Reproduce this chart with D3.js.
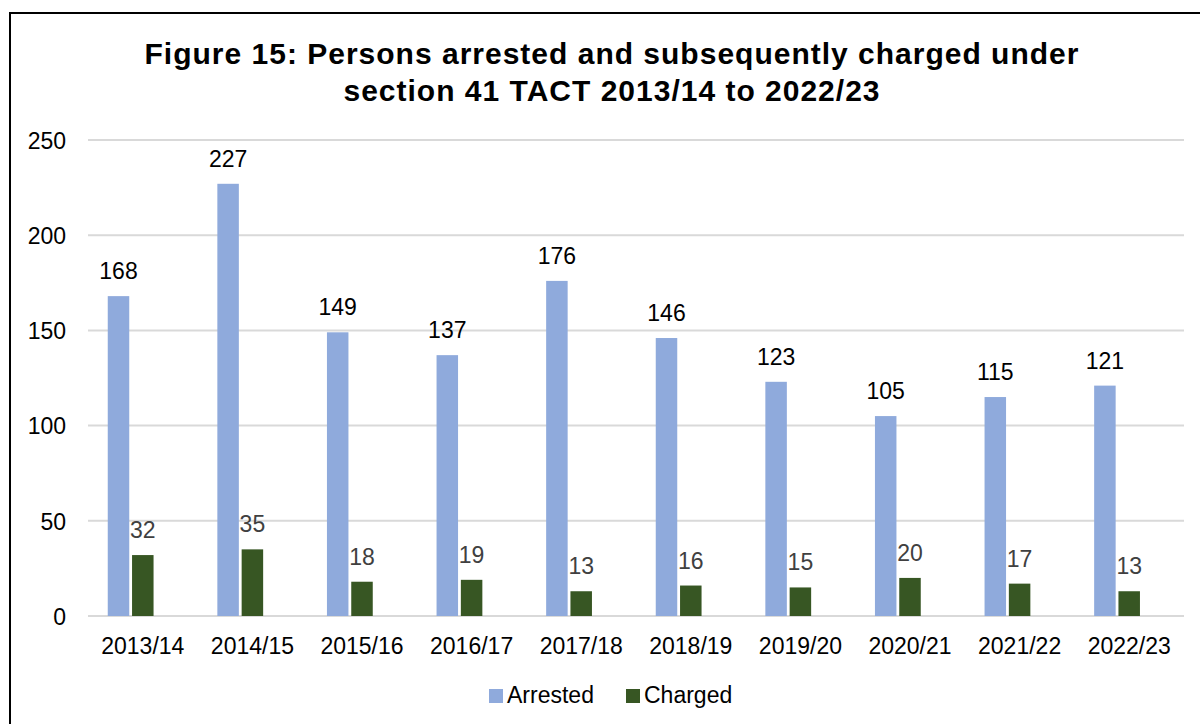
<!DOCTYPE html>
<html><head><meta charset="utf-8">
<script src="https://cdn.jsdelivr.net/npm/d3@7"></script>
<style>body{margin:0;background:#fff}svg{display:block;font-family:"Liberation Sans",Arial,sans-serif}</style>
</head><body><svg id="c" width="1200" height="724"></svg>
<script>
const categories = ["2013/14","2014/15","2015/16","2016/17","2017/18","2018/19","2019/20","2020/21","2021/22","2022/23"];
const arrested = [168,227,149,137,176,146,123,105,115,121];
const charged = [32,35,18,19,13,16,15,20,17,13];
const yTicks = [0,50,100,150,200,250];
const seriesNames = ["Arrested","Charged"];
const colors = ["#8FAADC","#375623"];

const svg = d3.select("#c");
svg.append("rect").attr("x",0).attr("y",0).attr("width",1200).attr("height",724).attr("fill","#fff");
// border
svg.append("path").attr("d","M10,730 L10,13 L1210,13").attr("fill","none").attr("stroke","#000").attr("stroke-width",2);

svg.append("text").attr("x",612).attr("y",64).attr("text-anchor","middle").attr("font-size",30).attr("letter-spacing","1px").attr("font-weight","bold").text("Figure 15: Persons arrested and subsequently charged under");
svg.append("text").attr("x",612).attr("y",101).attr("text-anchor","middle").attr("font-size",30).attr("letter-spacing","1px").attr("font-weight","bold").text("section 41 TACT 2013/14 to 2022/23");

const x = d3.scaleBand().domain(categories).range([88,1184]).paddingInner(0).paddingOuter(0);
const y = d3.scaleLinear().domain([0,250]).range([616,140]);

// gridlines
svg.append("g").selectAll("line").data(yTicks).join("line")
  .attr("x1",88).attr("x2",1184).attr("y1",d=>y(d)).attr("y2",d=>y(d))
  .attr("stroke","#D9D9D9").attr("stroke-width",2);

const yAxis = d3.axisLeft(y).tickValues(yTicks).tickSize(0).tickPadding(0);
const gy = svg.append("g").attr("transform","translate(66,0)").call(yAxis);
gy.select(".domain").remove();
gy.selectAll("text").attr("font-size",23).attr("fill","#000").attr("font-family","Liberation Sans, Arial, sans-serif").attr("dy","0.36em");

const xAxis = d3.axisBottom(x).tickSize(0).tickPadding(0);
const gx = svg.append("g").attr("transform","translate(0,637)").call(xAxis);
gx.select(".domain").remove();
gx.selectAll("text").attr("font-size",23).attr("fill","#000").attr("font-family","Liberation Sans, Arial, sans-serif").attr("dy","0.72em");

const slot = 24.3, bw = 21.5;
const series = [arrested, charged];
series.forEach((vals,si)=>{
  const off = x.bandwidth()/2 - 1.5*slot + si*slot;
  svg.append("g").selectAll("rect").data(vals).join("rect")
    .attr("x",(d,i)=>x(categories[i])+off+(slot-bw)/2)
    .attr("width",bw)
    .attr("y",d=>y(d)).attr("height",d=>y(0)-y(d))
    .attr("fill",colors[si]);
  svg.append("g").selectAll("text").data(vals).join("text")
    .attr("x",(d,i)=>x(categories[i])+off+slot/2)
    .attr("y",d=>y(d)-17)
    .attr("text-anchor","middle").attr("font-size",23)
    .attr("fill",si===0?"#000":"#404040")
    .text(d=>d);
});

// legend
const leg = svg.append("g");
const legX = [489,626];
seriesNames.forEach((n,i)=>{
  leg.append("rect").attr("x",legX[i]).attr("y",689).attr("width",14).attr("height",14).attr("fill",colors[i]);
  leg.append("text").attr("x",legX[i]+18).attr("y",703).attr("font-size",23).attr("fill","#000").text(n);
});
</script></body></html>
